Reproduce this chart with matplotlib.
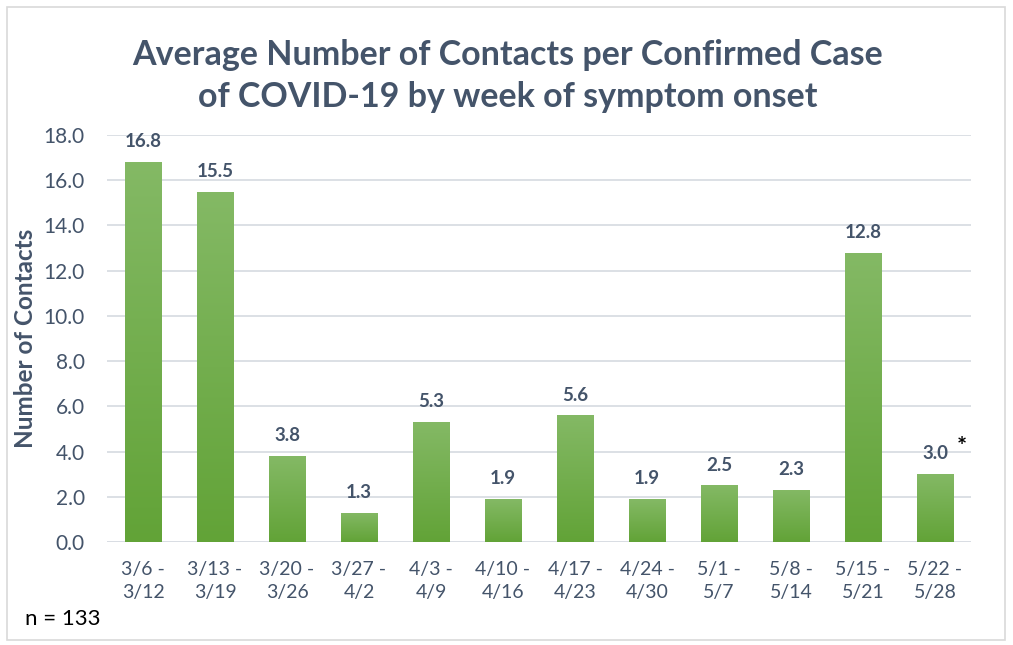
import numpy as np
import matplotlib
matplotlib.use("Agg")
import matplotlib.pyplot as plt
from matplotlib.patches import Rectangle
from matplotlib.colors import LinearSegmentedColormap

categories = ["3/6 -\n3/12", "3/13 -\n3/19", "3/20 -\n3/26", "3/27 -\n4/2", "4/3 -\n4/9",
              "4/10 -\n4/16", "4/17 -\n4/23", "4/24 -\n4/30", "5/1 -\n5/7", "5/8 -\n5/14",
              "5/15 -\n5/21", "5/22 -\n5/28"]
values = [16.8, 15.5, 3.8, 1.3, 5.3, 1.9, 5.6, 1.9, 2.5, 2.3, 12.8, 3.0]
yticks = [0, 2, 4, 6, 8, 10, 12, 14, 16, 18]

plt.rcParams['font.family'] = ['Lato', 'DejaVu Sans']
txt = '#44546a'

fig = plt.figure(figsize=(10.13, 6.45), dpi=100)
fig.patch.set_facecolor('white')
# outer frame
fig.add_artist(Rectangle((7/1013, 5/645), 998/1013, 633/645, transform=fig.transFigure,
                         fill=False, edgecolor='#d9d9d9', linewidth=1.2))

ax = fig.add_axes([107/1013, (645-542)/645, (971-107)/1013, (542-135)/645])
x = np.arange(len(values))
bars = ax.bar(x, values, width=0.51, color='#70ad47', zorder=2)

cmap = LinearSegmentedColormap.from_list('g', ['#62a337', '#84b965'])
grad = np.linspace(0, 1, 256).reshape(-1, 1)
for b in bars:
    bx, by = b.get_x(), b.get_y()
    w, h = b.get_width(), b.get_height()
    im = ax.imshow(grad, cmap=cmap, aspect='auto', origin='lower',
                   extent=[bx, bx + w, by, by + h], zorder=3)
    im.set_clip_path(b)

for xi, v in zip(x, values):
    ax.text(xi, v + 0.9, f"{v:.1f}", ha='center', va='center', fontsize=13.5,
            fontweight='bold', color=txt, zorder=4)
ax.text(x[-1] + 0.3, values[-1] + 1.2, "*", ha='left', va='center', fontsize=17,
        fontweight='bold', color='black')

ax.set_xlim(-0.5, len(values) - 0.5)
ax.set_ylim(0, 18)
ax.set_yticks(yticks)
ax.set_yticklabels([f"{t:.1f}" for t in yticks])
ax.set_xticks(x)
ax.set_xticklabels(categories, linespacing=1.4)
ax.tick_params(axis='both', length=0, colors=txt, labelsize=15)
ax.tick_params(axis='x', pad=14, labelsize=14)
ax.tick_params(axis='y', pad=16)
ax.grid(axis='y', color='#d9dde3', linewidth=1.3, zorder=0)
ax.set_axisbelow(True)
for s in ax.spines.values():
    s.set_visible(False)
ax.axhline(0, color='#d9dde3', linewidth=1.3, zorder=1)

ax.set_ylabel("Number of Contacts", fontsize=17.5, fontweight='bold', color=txt, labelpad=5)

fig.text(508/1013, 1 - 76/645, "Average Number of Contacts per Confirmed Case\nof COVID-19 by week of symptom onset",
         ha='center', va='center', fontsize=24.5, fontweight='bold', color=txt, linespacing=1.4)
fig.text(25/1013, 1 - 619/645, "n = 133", ha='left', va='center', fontsize=16, color='black')

fig.savefig("out.png", dpi=100)
